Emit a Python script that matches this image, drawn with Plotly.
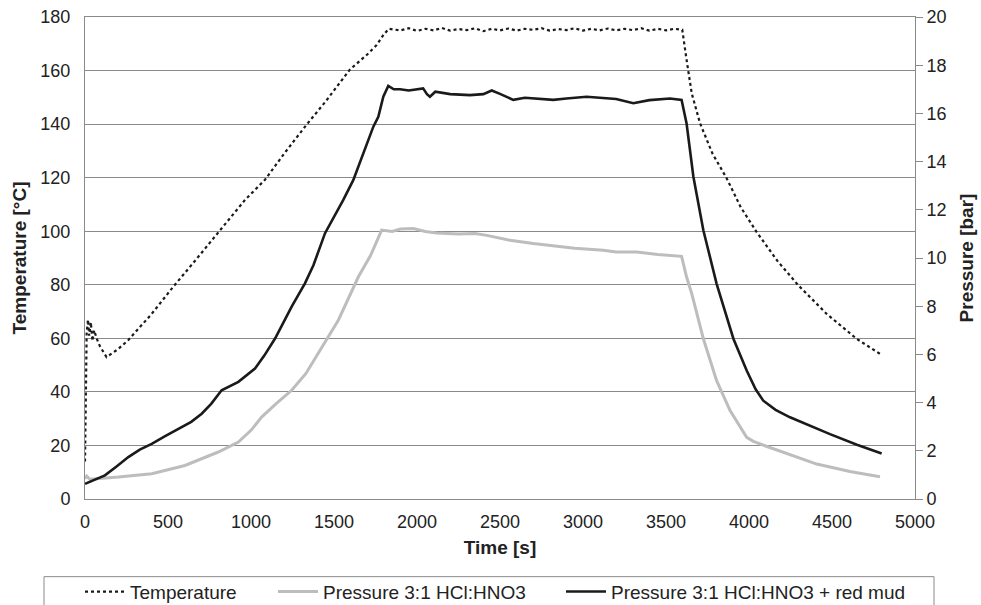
import plotly.graph_objects as go

# Temperature (left axis, °C)
temp_t = [0, 5, 10, 18, 25, 35, 45, 55, 70, 90, 130, 200, 260, 400, 532, 650, 803, 964, 1084, 1200,
          1335, 1450, 1596, 1700, 1757, 1800, 1830,
          1900, 1950, 2000, 2050, 2100, 2150, 2200, 2250, 2300, 2350, 2400, 2450, 2500, 2550, 2600,
          2650, 2700, 2750, 2800, 2850, 2900, 2950, 3000, 3050, 3100, 3150, 3200, 3250, 3300, 3350,
          3400, 3450, 3500, 3550, 3598,
          3624, 3655, 3705, 3780, 3866, 3950, 4046, 4170, 4297, 4470, 4649, 4789]
temp_v = [14, 40, 62, 67, 61, 66, 59, 63, 60, 57, 53, 56, 59.3, 69, 79.3, 88, 99.4, 111.7, 119.2, 129,
          139.8, 148.5, 160.4, 166, 169.5, 173.5, 175.6,
          175.0, 175.8, 174.8, 175.6, 175.0, 175.9, 174.9, 175.5, 175.1, 175.8, 174.7, 175.6, 175.0, 175.7, 174.9,
          175.6, 175.2, 175.8, 174.9, 175.5, 175.1, 175.8, 174.9, 175.6, 175.0, 175.7, 175.0, 175.6, 175.1, 175.8,
          174.9, 175.6, 175.0, 175.6, 175.2,
          164, 151.5, 140.3, 129, 119.7, 109, 99.7, 89, 79.8, 69, 59.8, 54.2]

# Pressure 3:1 HCl:HNO3 (right axis, bar)
p1_t = [0, 10, 30, 201, 402, 602, 803, 924, 1000, 1064, 1150, 1245, 1330, 1406, 1526, 1647, 1720, 1787,
        1850, 1900, 1978, 2050, 2118, 2250, 2350, 2420, 2560, 2700, 2821, 2950, 3122, 3200, 3323, 3450, 3594,
        3624, 3655, 3725, 3805, 3886, 3986, 4026, 4100, 4207, 4408, 4608, 4789]
p1_v = [0.84, 0.95, 0.82, 0.91, 1.05, 1.39, 1.95, 2.36, 2.85, 3.40, 3.95, 4.51, 5.2, 6.04, 7.42, 9.22, 10.1, 11.16,
        11.1, 11.2, 11.22, 11.1, 11.04, 11.0, 11.02, 10.94, 10.74, 10.6, 10.49, 10.4, 10.32, 10.25, 10.25, 10.15, 10.07,
        9.21, 8.52, 6.65, 4.91, 3.67, 2.56, 2.39, 2.2, 1.93, 1.45, 1.14, 0.92]

# Pressure 3:1 HCl:HNO3 + red mud (right axis, bar)
p2_t = [0, 60, 120, 190, 261, 330, 402, 480, 562, 640, 703, 760, 823, 924, 1024, 1080, 1145, 1245, 1325, 1376,
        1446, 1500, 1556, 1616, 1680, 1737, 1767, 1797, 1827, 1860, 1898, 1950, 2037, 2060, 2078, 2110, 2200,
        2319, 2400, 2450, 2500, 2580, 2650, 2700, 2821, 2900, 3022, 3100, 3200, 3303, 3400, 3524, 3594,
        3624, 3665, 3725, 3805, 3906, 3986, 4040, 4086, 4160, 4247, 4488, 4650, 4799]
p2_v = [0.63, 0.8, 0.98, 1.35, 1.74, 2.05, 2.29, 2.6, 2.92, 3.2, 3.54, 3.95, 4.51, 4.86, 5.41, 5.95, 6.66, 7.98, 8.95, 9.70,
        11.03, 11.7, 12.41, 13.23, 14.4, 15.45, 15.86, 16.69, 17.14, 17.0, 17.0, 16.95, 17.04, 16.8, 16.69, 16.9, 16.8,
        16.76, 16.8, 16.95, 16.81, 16.56, 16.65, 16.62, 16.56, 16.62, 16.69, 16.65, 16.6, 16.42, 16.55, 16.62, 16.56,
        15.58, 13.37, 11.15, 8.93, 6.65, 5.33, 4.55, 4.08, 3.7, 3.39, 2.69, 2.25, 1.89]

x_ticks = [0, 500, 1000, 1500, 2000, 2500, 3000, 3500, 4000, 4500, 5000]
names = ["Temperature", "Pressure 3:1 HCl:HNO3", "Pressure 3:1 HCl:HNO3 + red mud"]

FONT = "Liberation Sans, Arial, sans-serif"
GRID = "#8a8a8a"
TXT = "#222"

fig = go.Figure()
fig.add_trace(go.Scatter(x=temp_t, y=temp_v, name=names[0], mode="lines",
                         line=dict(color="#1a1a1a", width=2.2, dash="dot"), yaxis="y", legend="legend"))
fig.add_trace(go.Scatter(x=p1_t, y=p1_v, name=names[1], mode="lines",
                         line=dict(color="#bdbdbd", width=3), yaxis="y2", legend="legend2"))
fig.add_trace(go.Scatter(x=p2_t, y=p2_v, name=names[2], mode="lines",
                         line=dict(color="#1a1a1a", width=2.6), yaxis="y2", legend="legend3"))

leg_common = dict(orientation="h", xanchor="left", y=-0.1923, yanchor="middle",
                  font=dict(size=19, color=TXT), bgcolor="rgba(0,0,0,0)", itemwidth=40)

fig.update_layout(
    width=981, height=605,
    margin=dict(l=85, r=66, t=17, b=106, autoexpand=False),
    paper_bgcolor="white", plot_bgcolor="white",
    font=dict(family=FONT, size=18, color=TXT),
    showlegend=True,
    legend=dict(x=(80 - 85) / 830, **leg_common),
    legend2=dict(x=(273 - 85) / 830, **leg_common),
    legend3=dict(x=(561 - 85) / 830, **leg_common),
    xaxis=dict(range=[0, 5000], tickmode="array", tickvals=x_ticks, showgrid=False,
               showline=True, linecolor=GRID, linewidth=1, mirror=True,
               ticks="outside", ticklen=6, tickcolor="white", automargin=False,
               title=dict(text="<b>Time [s]</b>", font=dict(size=19, color=TXT), standoff=10),
               zeroline=False),
    yaxis=dict(range=[0, 180], dtick=20, showgrid=True, gridcolor=GRID, gridwidth=1,
               showline=True, linecolor=GRID, linewidth=1, zeroline=False, automargin=False,
               ticks="outside", ticklen=10, tickcolor="white",
               title=dict(text="<b>Temperature [°C]</b>", font=dict(size=19, color=TXT), standoff=8)),
    yaxis2=dict(range=[0, 20], dtick=2, overlaying="y", side="right", showgrid=False,
                showline=True, linecolor=GRID, linewidth=1, zeroline=False, automargin=False,
                ticks="outside", ticklen=7, tickcolor=GRID,
                title=dict(text="<b>Pressure [bar]</b>", font=dict(size=19, color=TXT), standoff=14)),
)

# legend frame
fig.add_shape(type="rect", xref="paper", yref="paper",
              x0=(44 - 85) / 830, x1=(934 - 85) / 830,
              y0=(498.5 - 612) / 481, y1=(498.5 - 576) / 481,
              line=dict(color=GRID, width=1), fillcolor="rgba(0,0,0,0)", layer="above")

fig.write_html("out.html")
